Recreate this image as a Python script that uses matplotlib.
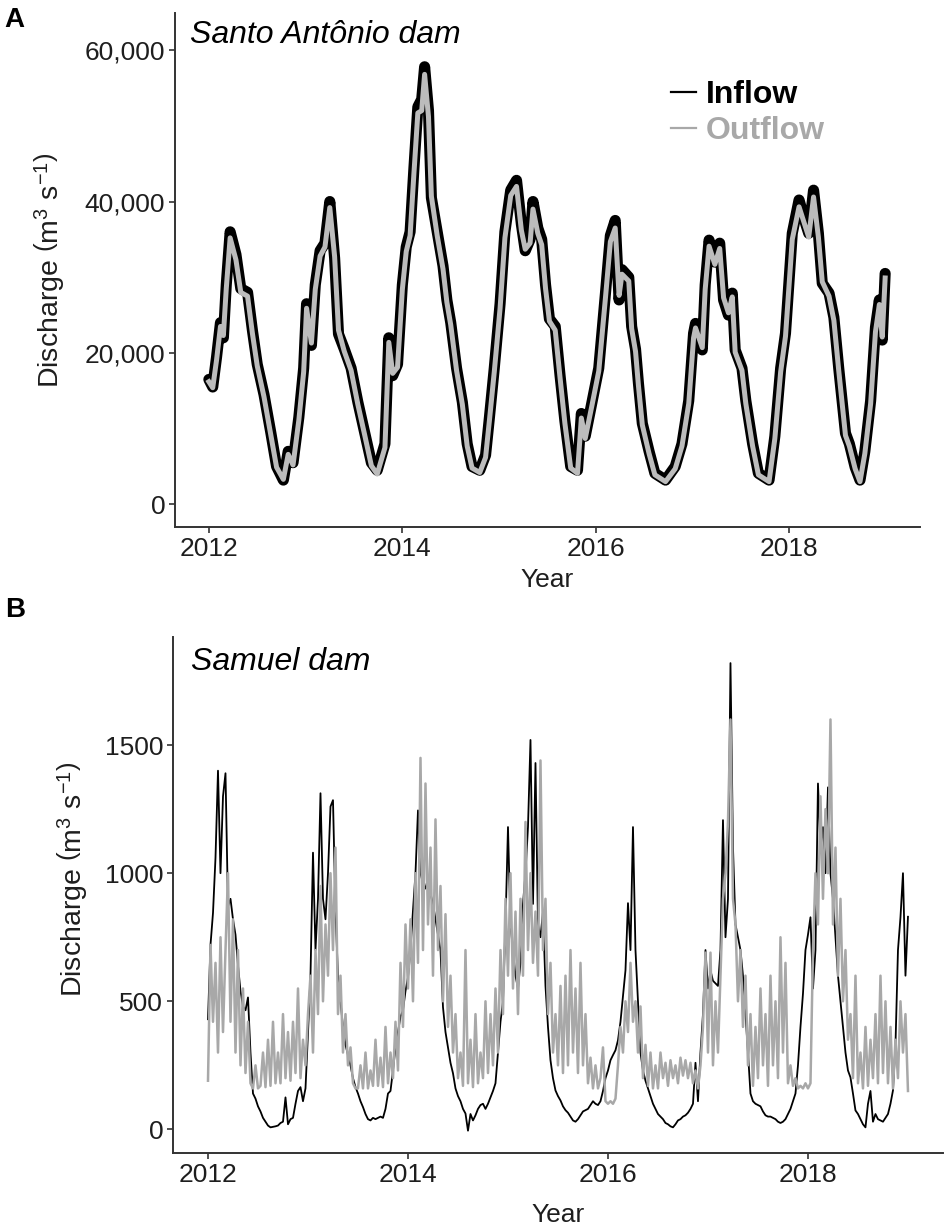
import matplotlib
matplotlib.use("Agg")
import matplotlib.pyplot as plt
from matplotlib.lines import Line2D
from matplotlib.ticker import FuncFormatter

plt.rcParams['font.family'] = ['Liberation Sans', 'DejaVu Sans']
plt.rcParams['mathtext.fontset'] = 'custom'
plt.rcParams['mathtext.rm'] = 'Liberation Sans'
plt.rcParams['mathtext.it'] = 'Liberation Sans:italic'

# ---- Santo Antonio dam (decimal years) ----
years_sa = [
    2012.00, 2012.04, 2012.08, 2012.12, 2012.15, 2012.18, 2012.22, 2012.28, 2012.33, 2012.40,
    2012.45, 2012.50, 2012.57, 2012.64, 2012.70, 2012.77, 2012.82, 2012.87, 2012.93, 2012.98,
    2013.01, 2013.06, 2013.10, 2013.15, 2013.20, 2013.25, 2013.30, 2013.34, 2013.40, 2013.47,
    2013.54, 2013.61, 2013.68, 2013.74, 2013.82, 2013.86, 2013.90, 2013.95, 2014.00, 2014.04,
    2014.08, 2014.12, 2014.16, 2014.20, 2014.23, 2014.27, 2014.30, 2014.36, 2014.42, 2014.46,
    2014.50, 2014.56, 2014.62, 2014.67, 2014.72, 2014.80, 2014.86, 2014.90, 2014.95, 2015.01,
    2015.06, 2015.12, 2015.18, 2015.23, 2015.27, 2015.32, 2015.35, 2015.40, 2015.44, 2015.48,
    2015.52, 2015.58, 2015.63, 2015.68, 2015.74, 2015.81, 2015.85, 2015.89, 2015.96, 2016.03,
    2016.10, 2016.15, 2016.20, 2016.24, 2016.27, 2016.34, 2016.37, 2016.41, 2016.44, 2016.48,
    2016.55, 2016.61, 2016.72, 2016.82, 2016.89, 2016.96, 2017.01, 2017.03, 2017.10, 2017.13,
    2017.17, 2017.23, 2017.28, 2017.32, 2017.37, 2017.41, 2017.44, 2017.51, 2017.55, 2017.62,
    2017.68, 2017.79, 2017.85, 2017.91, 2017.96, 2018.03, 2018.10, 2018.17, 2018.20, 2018.25,
    2018.30, 2018.34, 2018.41, 2018.46, 2018.51, 2018.58, 2018.62, 2018.68, 2018.73, 2018.78,
    2018.84, 2018.89, 2018.93, 2018.96, 2018.99]
inflow_sa = [
    16500, 15500, 19500, 24000, 22000, 29000, 36000, 33000, 28500, 28000,
    23000, 18500, 14500, 9500, 5000, 3200, 7000, 5500, 11500, 18000,
    26500, 21000, 29000, 33500, 34500, 40000, 32500, 22500, 20500, 18000,
    13500, 9500, 5500, 4500, 8000, 22000, 17000, 18500, 29000, 34000,
    36000, 44500, 52500, 53500, 57800, 52000, 40500, 36000, 31500, 27000,
    24000, 18000, 13500, 8000, 5000, 4500, 6500, 11500, 18000, 26500,
    36000, 41500, 42800, 37000, 33500, 35000, 40000, 36500, 35000, 29000,
    24500, 23500, 17000, 11000, 5000, 4500, 12000, 9000, 13500, 18000,
    28000, 35500, 37500, 27000, 31000, 30000, 23500, 20500, 16000, 10700,
    7000, 4100, 3200, 5000, 8000, 13700, 22600, 23900, 20400, 29000,
    34900, 32000, 34500, 27000, 25000, 27900, 20400, 18000, 13700, 8000,
    4100, 3200, 9000, 18000, 22600, 35800, 40200, 37000, 35800, 41500,
    35800, 29200, 27900, 24700, 18000, 9400, 8000, 4900, 3200, 7000,
    13700, 23400, 27000, 21700, 30500]
outflow_sa = [
    16200, 15400, 19100, 23500, 22300, 28500, 35200, 32300, 28000, 27500,
    22600, 18300, 14200, 9200, 4900, 3300, 6600, 5200, 11100, 17500,
    25900, 21300, 28400, 32800, 34000, 39200, 32700, 23000, 20200, 17700,
    13200, 9200, 5100, 4000, 7500, 21400, 17300, 18100, 28400, 33400,
    35500, 43800, 51700, 52000, 56800, 51200, 40700, 35500, 31100, 26700,
    23700, 17700, 13200, 7700, 4800, 4200, 6200, 11100, 17500, 25900,
    35200, 40800, 42000, 36200, 33700, 34500, 39000, 35800, 34300, 28500,
    24200, 23000, 16700, 10700, 4800, 4100, 11400, 8700, 13100, 17600,
    27400, 34700, 36500, 27600, 30400, 29500, 23200, 20200, 15700, 10500,
    6700, 3900, 3000, 4700, 7700, 13300, 22000, 23300, 20700, 28400,
    34100, 31700, 33800, 27300, 25300, 27400, 20100, 17700, 13300, 7700,
    3900, 3000, 8700, 17500, 22200, 35000, 39300, 36500, 35300, 40600,
    35300, 29400, 27500, 24300, 17700, 9100, 7700, 4700, 3000, 6700,
    13300, 22800, 26400, 22100, 29900]

# ---- Samuel dam, one value every 1/40 year from 2012.0 to 2019.0 ----
inflow_sm = [
    # 2012
    430, 720, 845, 1060, 1400, 1000, 1300, 1390, 870, 900,
    820, 760, 640, 540, 480, 465, 515, 300, 140, 120,
    90, 70, 45, 30, 15, 8, 10, 12, 15, 25,
    30, 125, 20, 40, 45, 100, 150, 165, 110, 160,
    # 2013
    375, 600, 1080, 700, 900, 1312, 900, 820, 1000, 1260,
    1285, 850, 600, 500, 400, 330, 290, 250, 200, 165,
    140, 110, 87, 60, 40, 35, 45, 40, 45, 50,
    45, 80, 140, 150, 230, 320, 380, 440, 465, 540,
    # 2014
    594, 700, 855, 1000, 1245, 1000, 960, 940, 980, 920,
    880, 820, 760, 700, 477, 380, 320, 260, 219, 160,
    130, 110, 80, 62, -5, 60, 35, 55, 80, 95,
    100, 80, 100, 125, 150, 180, 300, 420, 500, 800,
    # 2015
    1180, 800, 700, 600, 550, 650, 880, 1000, 1180, 1520,
    880, 1430, 800, 750, 850, 560, 400, 270, 200, 152,
    130, 113, 90, 75, 65, 50, 35, 30, 40, 55,
    70, 75, 80, 95, 110, 100, 95, 110, 150, 200,
    # 2016
    230, 270, 290, 309, 348, 420, 520, 621, 883, 700,
    1180, 700, 500, 300, 230, 190, 160, 130, 100, 80,
    60, 50, 40, 25, 20, 12, 8, 20, 35, 40,
    50, 55, 65, 80, 100, 260, 110, 300, 450, 700,
    # 2017
    550, 620, 580, 570, 560, 700, 1207, 750, 900, 1820,
    1100, 800, 750, 700, 600, 450, 300, 140, 110, 100,
    95, 90, 70, 55, 50, 50, 45, 40, 30, 25,
    30, 40, 60, 80, 110, 140, 250, 400, 530, 700,
    # 2018
    760, 828, 550, 700, 1350, 1100, 1180, 1000, 1335, 1000,
    900, 750, 600, 500, 400, 300, 230, 203, 140, 74,
    60, 40, 20, 8, 100, 150, 30, 60, 40, 35,
    30, 45, 60, 100, 152, 330, 700, 828, 1000, 600,
    # 2019-01-01
    830]
outflow_sm = [
    # 2012
    190, 720, 420, 650, 300, 750, 380, 700, 1000, 420,
    820, 300, 700, 250, 550, 220, 420, 180, 160, 250,
    160, 170, 300, 165, 350, 170, 420, 180, 300, 180,
    450, 200, 380, 190, 420, 220, 550, 200, 350, 250,
    # 2013
    450, 600, 300, 700, 450, 950, 500, 800, 600, 1000,
    700, 1100, 450, 600, 300, 450, 250, 320, 180, 160,
    160, 250, 160, 300, 160, 230, 170, 350, 170, 280,
    165, 400, 180, 300, 200, 420, 230, 650, 400, 800,
    # 2014
    550, 820, 500, 1000, 650, 1450, 700, 1350, 800, 1100,
    600, 1210, 700, 950, 500, 840, 400, 600, 300, 450,
    200, 300, 170, 700, 180, 350, 165, 450, 180, 300,
    200, 500, 220, 450, 250, 550, 300, 700, 450, 900,
    # 2015
    600, 1000, 550, 850, 450, 900, 600, 1200, 700, 1000,
    650, 850, 600, 1440, 700, 900, 450, 650, 300, 450,
    250, 560, 220, 600, 250, 700, 300, 550, 220, 650,
    250, 450, 180, 280, 160, 250, 160, 200, 320, 110,
    # 2016
    100, 110, 100, 120, 250, 400, 300, 500, 380, 650,
    420, 500, 300, 480, 200, 330, 170, 300, 160, 250,
    160, 300, 200, 260, 170, 270, 200, 250, 180, 280,
    210, 270, 200, 260, 180, 230, 160, 250, 400, 690,
    # 2017
    300, 690, 250, 500, 300, 600, 900, 1000, 1200, 1600,
    900, 800, 500, 700, 400, 600, 250, 450, 170, 400,
    200, 550, 250, 450, 170, 600, 250, 500, 200, 750,
    300, 650, 180, 250, 170, 200, 160, 170, 160, 180,
    # 2018
    160, 180, 700, 1000, 800, 1300, 900, 1250, 1000, 1600,
    800, 1100, 600, 900, 500, 700, 350, 450, 200, 600,
    180, 300, 160, 400, 170, 350, 200, 450, 180, 600,
    220, 500, 180, 400, 160, 350, 200, 500, 300, 450,
    # 2019-01-01
    150]
years_sm = [2012 + i / 40 for i in range(len(inflow_sm))]

year_ticks = [2012, 2014, 2016, 2018]
gray_line = '#bcbcbc'
gray_b = '#a8a8a8'
axis_col = '#333333'
text_col = '#1e1e1e'

fig = plt.figure(figsize=(9.5, 12.28), dpi=100)
ax1 = fig.add_axes([0.1842, 0.5708, 0.7842, 0.4186])
ax2 = fig.add_axes([0.1821, 0.0611, 0.8105, 0.4202])


def style(ax, pad):
    for s in ['top', 'right']:
        ax.spines[s].set_visible(False)
    for s in ['left', 'bottom']:
        ax.spines[s].set_color(axis_col)
        ax.spines[s].set_linewidth(1.4)
    ax.tick_params(length=4, width=1.2, color=axis_col, labelsize=19,
                   labelcolor=text_col, pad=3)
    ax.set_xticks(year_ticks)
    ax.set_xticklabels([str(y) for y in year_ticks])
    ax.set_xlim(2011.65, 2019.35)
    ax.set_xlabel('Year', fontsize=19, color=text_col, labelpad=pad)


ylab = r'Discharge $\left(\mathrm{m^3\ s^{-1}}\right)$'

# panel A
ax1.plot(years_sa, inflow_sa, color='black', lw=8, solid_joinstyle='round',
         solid_capstyle='round')
ax1.plot(years_sa, outflow_sa, color=gray_line, lw=3.6, solid_joinstyle='round')
style(ax1, 5)
ax1.set_ylim(-3000, 64900)
ax1.set_yticks([0, 20000, 40000, 60000])
ax1.yaxis.set_major_formatter(FuncFormatter(lambda v, p: f'{v:,.0f}'))
ax1.set_ylabel(ylab, fontsize=20.5, color=text_col)
ax1.yaxis.set_label_coords(-0.145, 0.5)
ax1.text(0.02, 0.957, 'Santo Antônio dam', transform=ax1.transAxes,
         fontsize=23, style='italic', va='center', ha='left')

handles = [Line2D([], [], color='black', lw=1.6),
           Line2D([], [], color=gray_b, lw=1.6)]
leg = ax1.legend(handles, ['Inflow', 'Outflow'], loc='upper left',
                 bbox_to_anchor=(0.689, 0.948), bbox_transform=fig.transFigure,
                 frameon=False, handlelength=0.8, handletextpad=0.3,
                 labelspacing=0.2, borderpad=0,
                 prop={'size': 23, 'weight': 'bold'})
for txt, c in zip(leg.get_texts(), ['black', gray_b]):
    txt.set_color(c)

# panel B
ax2.plot(years_sm, inflow_sm, color='black', lw=1.3, zorder=2)
ax2.plot(years_sm, outflow_sm, color=gray_b, lw=1.8, zorder=3)
style(ax2, 12)
ax2.set_ylim(-92, 1922)
ax2.set_yticks([0, 500, 1000, 1500])
ax2.set_ylabel(ylab, fontsize=20.5, color=text_col)
ax2.yaxis.set_label_coords(-0.108, 0.53)
ax2.text(0.024, 0.952, 'Samuel dam', transform=ax2.transAxes,
         fontsize=23, style='italic', va='center', ha='left')

fig.text(0.005, 0.994, 'A', fontsize=20, fontweight='bold', va='top', ha='left')
fig.text(0.005, 0.514, 'B', fontsize=20, fontweight='bold', va='top', ha='left')

fig.savefig('out.png', dpi=100)
